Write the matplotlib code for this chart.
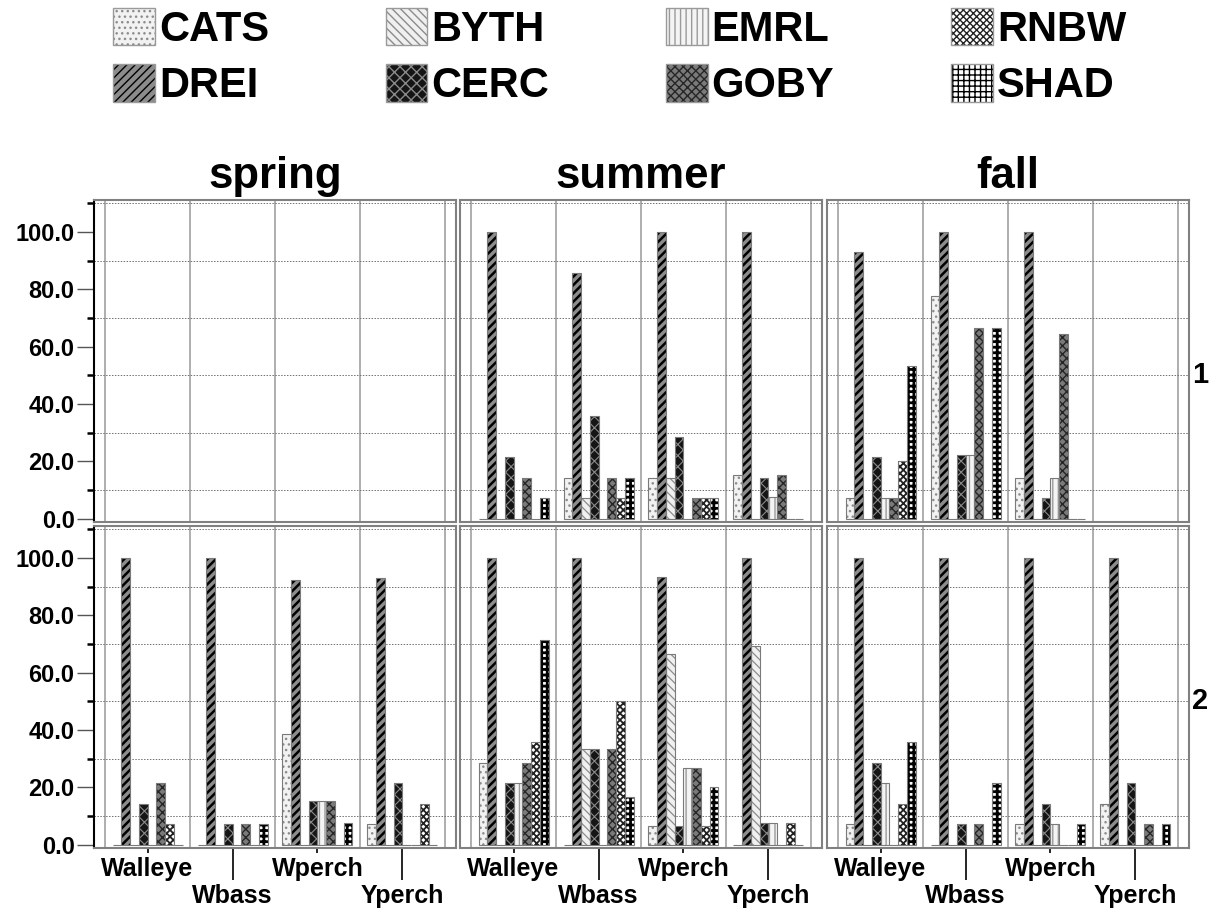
import numpy as np
import matplotlib
matplotlib.use("Agg")
import matplotlib.pyplot as plt
from matplotlib.patches import Rectangle

plt.rcParams["font.family"] = ["Liberation Sans", "DejaVu Sans"]
plt.rcParams["font.weight"] = "bold"

# --- data (percent occurrence) ---
species = ["CATS", "DREI", "BYTH", "CERC", "EMRL", "GOBY", "RNBW", "SHAD"]
fish = ["Walleye", "Wbass", "Wperch", "Yperch"]
seasons = ["spring", "summer", "fall"]
row_labels = ["1", "2"]
y_major = [0, 20, 40, 60, 80, 100]
y_minor = [10, 30, 50, 70, 90, 110]

# one list per fish, values in species order; None = no sample
row1_spring = [None, None, None, None]
row1_summer = [
    [0, 100, 0, 21.4, 0, 14.3, 0, 7.1],
    [14.3, 85.7, 7.1, 35.7, 0, 14.3, 7.1, 14.3],
    [14.3, 100, 14.3, 28.6, 0, 7.1, 7.1, 7.1],
    [15.4, 100, 0, 14.3, 7.7, 15.4, 0, 0],
]
row1_fall = [
    [7.1, 92.9, 0, 21.4, 7.1, 7.1, 20.0, 53.3],
    [77.8, 100, 0, 22.2, 22.2, 66.7, 0, 66.7],
    [14.3, 100, 0, 7.1, 14.3, 64.3, 0, 0],
    None,
]
row2_spring = [
    [0, 100, 0, 14.3, 0, 21.4, 7.1, 0],
    [0, 100, 0, 7.1, 0, 7.1, 0, 7.1],
    [38.5, 92.3, 0, 15.4, 15.4, 15.4, 0, 7.7],
    [7.1, 92.9, 0, 21.4, 0, 0, 14.3, 0],
]
row2_summer = [
    [28.6, 100, 0, 21.4, 21.4, 28.6, 35.7, 71.4],
    [0, 100, 33.3, 33.3, 0, 33.3, 50.0, 16.7],
    [6.7, 93.3, 66.7, 6.7, 26.7, 26.7, 6.7, 20.0],
    [0, 100, 69.2, 7.7, 7.7, 0, 7.7, 0],
]
row2_fall = [
    [7.1, 100, 0, 28.6, 21.4, 0, 14.3, 35.7],
    [0, 100, 0, 7.1, 0, 7.1, 0, 21.4],
    [7.1, 100, 0, 14.3, 7.1, 0, 0, 7.1],
    [14.3, 100, 0, 21.4, 0, 7.1, 0, 7.1],
]
tables = [[row1_spring, row1_summer, row1_fall],
          [row2_spring, row2_summer, row2_fall]]

# --- fill styles (greyscale patterns) ---
styles = {
    "CATS": dict(face="#f2f2f2", hatch="...", hc="#8c8c8c", hlw=1.0),
    "DREI": dict(face="#8c8c8c", hatch="////", hc="#000000", hlw=1.8),
    "BYTH": dict(face="#f0f0f0", hatch="\\\\\\\\", hc="#8c8c8c", hlw=0.9),
    "CERC": dict(face="#151515", hatch="xxx", hc="#8a8a8a", hlw=0.8),
    "EMRL": dict(face="#f4f4f4", hatch="|||", hc="#9a9a9a", hlw=1.0),
    "GOBY": dict(face="#7a7a7a", hatch="xxxx", hc="#262626", hlw=1.0),
    "RNBW": dict(face="#ffffff", hatch="xxxxx", hc="#222222", hlw=1.3),
    "SHAD": dict(face="#ffffff", hatch="+++", hc="#000000", hlw=2.0),
}

W, H = 1211, 909
bw = 0.103
fig = plt.figure(figsize=(W / 100, H / 100), dpi=100)

col_x = [94, 460, 827]
row_top = [200, 526]
pw, ph = 362, 322


def draw_bars(ax, table):
    for i, sp in enumerate(species):
        xs = [j + (i - 3.5) * bw for j, v in enumerate(table) if v is not None]
        hs = [v[i] for v in table if v is not None]
        if not xs:
            continue
        st = styles[sp]
        with plt.rc_context({"hatch.linewidth": st["hlw"]}):
            ax.bar(xs, hs, width=bw, color=st["face"], edgecolor=st["hc"],
                   hatch=st["hatch"], linewidth=0, zorder=3)
        ax.bar(xs, hs, width=bw, fill=False, edgecolor="#7a7a7a",
               linewidth=0.8, zorder=4)


for r in range(2):
    for c in range(3):
        ax = fig.add_axes([col_x[c] / W, 1 - (row_top[r] + ph) / H, pw / W, ph / H])
        ax.set_xlim(-0.63, 3.63)
        ax.set_ylim(-1.1, 111.2)
        for s in ax.spines.values():
            s.set_color("#808080")
            s.set_linewidth(1.5)
        for b in np.arange(-0.5, 4, 1.0):
            ax.axvline(b, color="#a8a8a8", lw=1.3, zorder=1)
        ax.set_yticks(y_major)
        ax.set_yticks(y_minor, minor=True)
        ax.grid(which="minor", axis="y", ls=(0, (1.5, 1.5)), color="#707070", lw=0.7, zorder=0)
        draw_bars(ax, tables[r][c])

        if c == 0:
            ax.spines["left"].set_color("black")
            ax.set_yticklabels([f"{v:.1f}" for v in y_major])
            ax.tick_params(axis="y", which="major", length=12, width=1.0, color="#555555",
                           pad=2, labelsize=17)
            ax.tick_params(axis="y", which="minor", length=5, width=1.8, color="black")
        else:
            ax.tick_params(axis="y", which="both", left=False, labelleft=False)

        if r == 1:
            ax.set_xticks([0, 2], labels=[fish[0], fish[2]])
            ax.set_xticks([1, 3], labels=[fish[1], fish[3]], minor=True)
            ax.tick_params(axis="x", which="major", length=3.6, width=1.2, pad=3, labelsize=18)
            ax.tick_params(axis="x", which="minor", length=23, width=1.2, pad=3, labelsize=18)
        else:
            ax.set_xticks([])

        if r == 0:
            ax.set_title(seasons[c], fontsize=31.5, fontweight="bold", pad=8.6)
        if c == 2:
            ax.text(1.03, 50, row_labels[r], transform=ax.get_yaxis_transform(),
                    ha="center", va="center", fontsize=21, fontweight="bold")

# legend
handles = []
for sp in species:
    st = styles[sp]
    with plt.rc_context({"hatch.linewidth": st["hlw"]}):
        p = Rectangle((0, 0), 1, 1, facecolor=st["face"], edgecolor=st["hc"],
                      hatch=st["hatch"], linewidth=0)
    o = Rectangle((0, 0), 1, 1, fill=False, edgecolor="#9a9a9a", linewidth=1)
    handles.append((p, o))
fig.legend(handles, species, ncol=4, loc="upper left",
           bbox_to_anchor=(113 / W, 1 - 8 / H), frameon=False,
           prop=dict(size=30, weight="bold"), handlelength=1.0, handleheight=1.0,
           handletextpad=0.1, columnspacing=2.8, labelspacing=0.35,
           borderpad=0, borderaxespad=0)

fig.savefig("out.png", dpi=100)
